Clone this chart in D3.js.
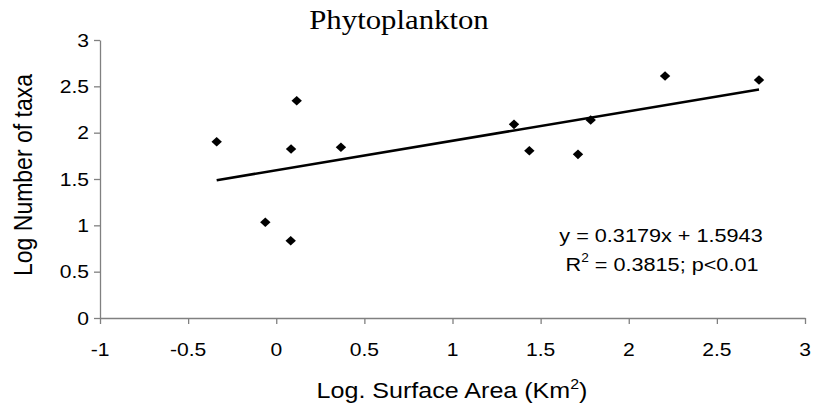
<!DOCTYPE html>
<html>
<head>
<meta charset="utf-8">
<script src="https://cdn.jsdelivr.net/npm/d3@7"></script>
<style>
  html, body { margin: 0; padding: 0; background: white; }
  text { font-family: Arial, "Liberation Sans", sans-serif; fill: black; }
</style>
</head>
<body>
<div id="chart"></div>
<script>
"use strict"

// values
const logArea = [-0.338, 0.116, 0.084, 0.367, 1.349, 1.436, 1.712, 1.784, 2.206, 2.739, -0.062, 0.082]
const logTaxa = [1.902, 2.345, 1.824, 1.842, 2.090, 1.805, 1.766, 2.137, 2.611, 2.568, 1.033, 0.834]
const xTicks = [-1, -0.5, 0, 0.5, 1, 1.5, 2, 2.5, 3]
const yTicks = [0, 0.5, 1, 1.5, 2, 2.5, 3]
const slope = 0.3179
const intercept = 1.5943

const width = 814, height = 406
const margin = ({top: 40, right: 9, bottom: 88, left: 100})
const stretch = 1.14 // the picture is a bit wider than tall

const svg = d3.select("#chart").append("svg")
  .attr("width", width)
  .attr("height", height)

const x = d3.scaleLinear().domain([-1, 3]).range([margin.left, width - margin.right])
const y = d3.scaleLinear().domain([0, 3]).range([height - margin.bottom, margin.top])

function label(g, px, py, size, anchor, rot) {
  return g.append("g")
    .attr("transform", `translate(${px},${py}) scale(${stretch},1)` + (rot ? ` rotate(${rot})` : ""))
    .append("text")
    .attr("text-anchor", anchor)
    .style("font-size", size + "px")
}

// axes, labels drawn separately so they can be stretched
svg.append("g")
  .attr("transform", `translate(0,${y(0)})`)
  .call(d3.axisBottom(x).tickValues(xTicks).tickSize(6).tickSizeOuter(0).tickFormat(() => ""))
svg.append("g")
  .attr("transform", `translate(${x(-1)},0)`)
  .call(d3.axisLeft(y).tickValues(yTicks).tickSize(6).tickSizeOuter(0).tickFormat(() => ""))

svg.selectAll(".domain, .tick line")
  .attr("stroke", "#808080")
  .attr("stroke-width", 1.3)

xTicks.forEach(t => {
  label(svg, x(t), y(0) + 38, 18.5, "middle").text(String(t))
})
yTicks.forEach(t => {
  label(svg, x(-1) - 11, y(t) + 6.5, 18.5, "end").text(String(t))
})

// trend line
const x0 = d3.min(logArea), x1 = d3.max(logArea)
svg.append("line")
  .attr("x1", x(x0)).attr("y1", y(slope * x0 + intercept))
  .attr("x2", x(x1)).attr("y2", y(slope * x1 + intercept))
  .attr("stroke", "black")
  .attr("stroke-width", 2.6)

// points
const diamond = "M0,-4.8L5.2,0L0,4.8L-5.2,0Z"
svg.append("g")
  .selectAll("path")
  .data(logArea.map((v, i) => [v, logTaxa[i]]))
  .join("path")
  .attr("d", diamond)
  .attr("transform", d => `translate(${x(d[0])},${y(d[1])})`)
  .attr("fill", "black")

// title
label(svg, 399, 29, 27, "middle")
  .style("font-family", "'Liberation Serif', 'Times New Roman', serif")
  .text("Phytoplankton")

// axis titles
const xl = label(svg, 452, 398, 22, "middle")
xl.append("tspan").text("Log. Surface Area (Km")
xl.append("tspan").attr("dy", -9).style("font-size", "14px").text("2")
xl.append("tspan").attr("dy", 9).text(")")

label(svg, 32, 175, 23, "middle", -90).text("Log Number of taxa")

// equation
label(svg, 661, 242, 19, "middle").text("y = 0.3179x + 1.5943")
const r2 = label(svg, 662, 271, 19, "middle")
r2.append("tspan").text("R")
r2.append("tspan").attr("dy", -9).style("font-size", "12px").text("2")
r2.append("tspan").attr("dy", 9).text(" = 0.3815; p<0.01")
</script>
</body>
</html>
